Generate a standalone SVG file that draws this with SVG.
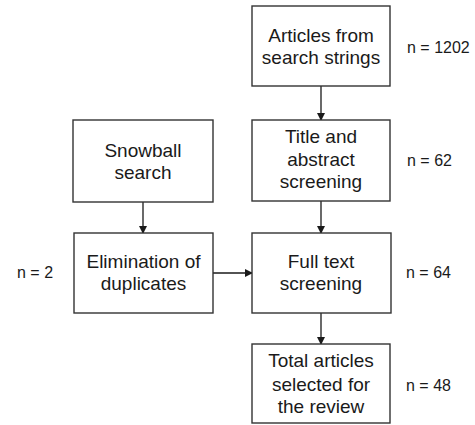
<svg xmlns="http://www.w3.org/2000/svg" width="475" height="425" viewBox="0 0 475 425">
<defs>
<style>
.box{fill:#fff;stroke:#333;stroke-width:1.4}
.t{font-family:"Liberation Sans",Arial,sans-serif;font-size:19px;fill:#1a1a1a;text-anchor:middle}
.n{font-family:"Liberation Sans",Arial,sans-serif;font-size:16px;fill:#1a1a1a}
.c{stroke:#1a1a1a;stroke-width:1.3;fill:none;marker-end:url(#ah)}
</style>
<marker id="ah" markerWidth="8" markerHeight="8" refX="7" refY="4" orient="auto" markerUnits="userSpaceOnUse">
<path d="M0,0 L8,4 L0,8 Z" fill="#1a1a1a"/>
</marker>
</defs>
<rect width="475" height="425" fill="#fff"/>
<g id="connectors">
<line class="c" x1="321" y1="86" x2="321" y2="120"/>
<line class="c" x1="321" y1="201" x2="321" y2="233"/>
<line class="c" x1="321" y1="313" x2="321" y2="344"/>
<line class="c" x1="143" y1="202" x2="143" y2="233"/>
<line class="c" x1="213" y1="273" x2="252" y2="273"/>
</g>
<g id="articles">
<rect class="box" x="252" y="6" width="138" height="80"/>
<text class="t" x="321" y="42">Articles from</text>
<text class="t" x="321" y="64">search strings</text>
<text class="n" x="407" y="53">n = 1202</text>
</g>
<g id="title">
<rect class="box" x="252" y="120" width="138" height="81"/>
<text class="t" x="321" y="143">Title and</text>
<text class="t" x="321" y="166">abstract</text>
<text class="t" x="321" y="188">screening</text>
<text class="n" x="407" y="166">n = 62</text>
</g>
<g id="snowball">
<rect class="box" x="73" y="120" width="140" height="82"/>
<text class="t" x="143" y="157">Snowball</text>
<text class="t" x="143" y="179">search</text>
</g>
<g id="elimination">
<rect class="box" x="74" y="233" width="139" height="80"/>
<text class="t" x="143.5" y="268">Elimination of</text>
<text class="t" x="143.5" y="290">duplicates</text>
<text class="n" x="17" y="278">n = 2</text>
</g>
<g id="fulltext">
<rect class="box" x="252" y="233" width="139" height="80"/>
<text class="t" x="321" y="268">Full text</text>
<text class="t" x="321" y="290">screening</text>
<text class="n" x="406" y="278">n = 64</text>
</g>
<g id="total">
<rect class="box" x="252" y="344" width="138" height="79"/>
<text class="t" x="321" y="367">Total articles</text>
<text class="t" x="321" y="391">selected for</text>
<text class="t" x="321" y="413">the review</text>
<text class="n" x="406" y="391">n = 48</text>
</g>
</svg>
